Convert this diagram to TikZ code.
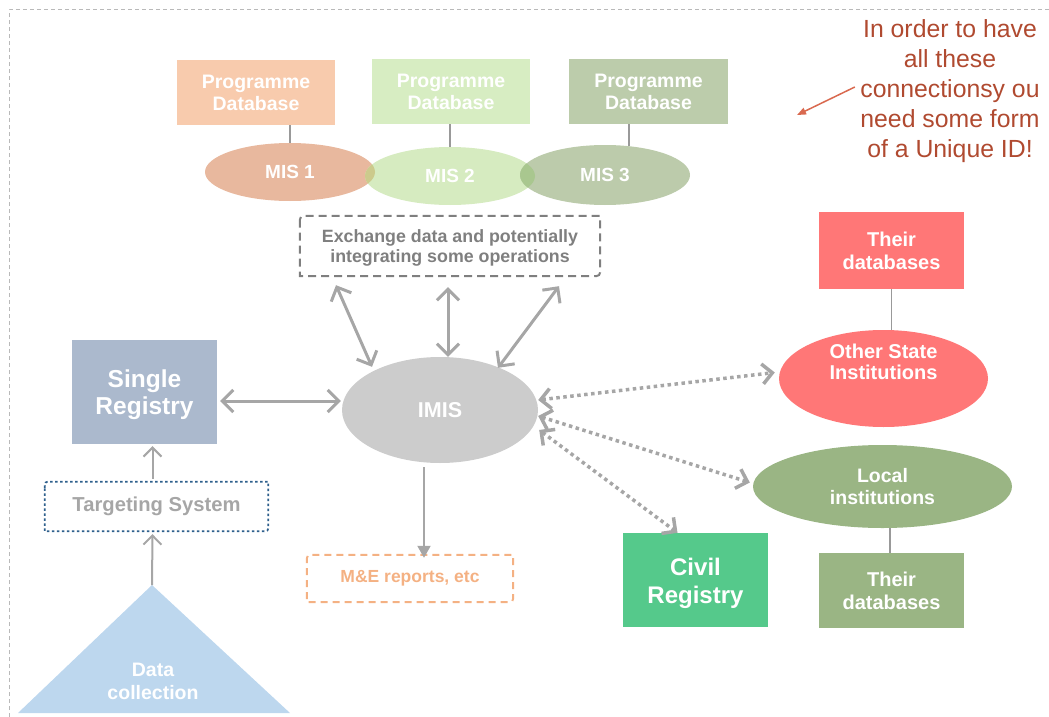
\documentclass[tikz,border=0pt]{standalone}
\usepackage{fontspec}
\setmainfont{Liberation Sans}
\usetikzlibrary{shapes.geometric,arrows.meta,calc}

\definecolor{pdA}{HTML}{F8CBAD}
\definecolor{misA}{HTML}{E8B89E}
\definecolor{pdB}{HTML}{D7EDC2}
\definecolor{misB}{HTML}{D6EBC0}
\definecolor{pdC}{HTML}{BCCCAB}
\definecolor{misC}{HTML}{BCCBAB}
\definecolor{ovAB}{HTML}{CCCA8C}
\definecolor{ovBC}{HTML}{A9C78F}
\definecolor{imisgray}{HTML}{CCCCCC}
\definecolor{arrowgray}{HTML}{A6A6A6}
\definecolor{linegray}{HTML}{999999}
\definecolor{sregblue}{HTML}{ABB9CD}
\definecolor{trib}{HTML}{BDD7EE}
\definecolor{salmon}{HTML}{FF7777}
\definecolor{sage}{HTML}{9AB584}
\definecolor{civgreen}{HTML}{55C98B}
\definecolor{noteRed}{HTML}{B04A30}
\definecolor{noteArrow}{HTML}{D9694F}
\definecolor{meOrange}{HTML}{F4B183}
\definecolor{targBlue}{HTML}{2E5F8C}
\definecolor{exchGray}{HTML}{7F7F7F}

\newcommand\setfs[2]{\fontsize{#1}{#2}\selectfont\bfseries}

\begin{document}
\begin{tikzpicture}[x=1pt,y=-1pt,
  fillbox/.style={rectangle, inner sep=0pt, align=center, text=white},
  fillell/.style={ellipse, inner sep=0pt, align=center, text=white},
  framebox/.style={rectangle, inner sep=0pt, align=center},
  conn/.style={draw=linegray, line width=1.8pt},
  dbl/.style={draw=arrowgray, line width=3pt,
    {Straight Barb[length=11pt,width=22pt]}-{Straight Barb[length=11pt,width=22pt]}},
  dotdbl/.style={draw=arrowgray, line width=3.5pt, dash pattern=on 3.5pt off 3.5pt,
    {Straight Barb[length=10pt,width=20pt]}-{Straight Barb[length=10pt,width=20pt]}},
  thinarr/.style={draw=arrowgray, line width=2pt, -{Straight Barb[length=9pt,width=18pt]}},
]
\useasboundingbox (0,0) rectangle (1049,717);

% page frame
\draw[gray!55, line width=1pt, dash pattern=on 4pt off 3pt] (9,717) -- (9,10) -- (1049,10);

% programme databases
\node[fillbox, fill=pdA, minimum width=158pt, minimum height=65pt, font=\setfs{19.5}{22}] (pd1) at (256,92.5) {Programme\\Database};
\node[fillbox, fill=pdB, minimum width=158pt, minimum height=65pt, font=\setfs{19.5}{22}] (pd2) at (451,91.5) {Programme\\Database};
\node[fillbox, fill=pdC, minimum width=159pt, minimum height=65pt, font=\setfs{19.5}{22}] (pd3) at (648.5,91.5) {Programme\\Database};

% MIS ellipses
\node[fillell, fill=misA, minimum width=170pt, minimum height=58pt] (mis1) at (290,172) {};
\node[fillell, fill=misB, minimum width=170pt, minimum height=58pt] (mis2) at (450,176) {};
\node[fillell, fill=misC, minimum width=170pt, minimum height=60pt] (mis3) at (605,175) {};
\begin{scope}
  \clip (mis1.center) ellipse [x radius=85pt, y radius=29pt];
  \fill[ovAB] (mis2.center) ellipse [x radius=85pt, y radius=29pt];
\end{scope}
\begin{scope}
  \clip (mis2.center) ellipse [x radius=85pt, y radius=29pt];
  \fill[ovBC] (mis3.center) ellipse [x radius=85pt, y radius=30pt];
\end{scope}
\node[text=white, font=\setfs{19}{22}] at (mis1.center) {MIS 1};
\node[text=white, font=\setfs{19}{22}] at (mis2.center) {MIS 2};
\node[text=white, font=\setfs{19}{22}] at (mis3.center) {MIS 3};

\draw[conn] (mis1.north) -- (mis1.north |- pd1.south);
\draw[conn] (mis2.north) -- (mis2.north |- pd2.south);
\draw[conn] ([xshift=24pt,yshift=-1pt]mis3.north) -- ([xshift=24pt]mis3.north |- pd3.south);

% exchange box
\node[framebox, minimum width=300pt, minimum height=60pt] (exch) at (450,246) {};
\node[text=exchGray, align=center, font=\setfs{17.8}{19.5}] at ([yshift=-2pt]exch.center)
  {Exchange data and potentially\\integrating some operations};
\draw[exchGray, line width=2pt, dash pattern=on 8pt off 5pt]
  ($(exch.north west)+(0,9)$) .. controls (exch.north west) .. ($(exch.north west)+(9,0)$)
  -- (exch.north east) -- ($(exch.south east)+(0,-9)$)
  .. controls (exch.south east) .. ($(exch.south east)+(-9,0)$)
  -- (exch.south west) -- cycle;

% IMIS
\node[fillell, fill=imisgray, minimum width=196pt, minimum height=106pt, font=\setfs{21.5}{24}] (imis) at (440,410) {IMIS};

% single registry, targeting, data collection
\node[fillbox, fill=sregblue, minimum width=145pt, minimum height=104pt] (sreg) at (144.5,392) {};
\node[text=white, align=center, font=\setfs{24.5}{27}] at ([yshift=-3pt]sreg.center) {Single\\Registry};
\node[framebox, minimum width=223pt, minimum height=49pt, text=arrowgray, font=\setfs{20.2}{22}] (targ) at (156.5,506.5) {Targeting System};
\draw[targBlue, line width=1.8pt, dash pattern=on 2.5pt off 2.5pt]
  ($(targ.north west)+(0,6)$) .. controls (targ.north west) .. ($(targ.north west)+(6,0)$)
  -- (targ.north east) -- ($(targ.south east)+(0,-6)$)
  .. controls (targ.south east) .. ($(targ.south east)+(-6,0)$)
  -- (targ.south west) -- cycle;
\coordinate (apex) at (152,585);
\fill[trib] (apex) -- (290,713) -- (18,713) -- cycle;
\node[text=white, align=center, font=\setfs{19.5}{23}] (dc) at (153,681) {Data\\collection};

% M&E box
\node[framebox, minimum width=206pt, minimum height=47pt, text=meOrange, font=\setfs{17.5}{20}] (me) at (410,578.5) {M\&E reports, etc};
\draw[meOrange, line width=2pt, dash pattern=on 7pt off 5pt]
  ($(me.north west)+(0,8)$) .. controls (me.north west) .. ($(me.north west)+(8,0)$)
  -- (me.north east) -- ($(me.south east)+(0,-8)$)
  .. controls (me.south east) .. ($(me.south east)+(-8,0)$)
  -- (me.south west) -- cycle;

% other institutions
\node[fillbox, fill=salmon, minimum width=145pt, minimum height=77pt, font=\setfs{20}{23}] (tdb1) at (891.5,250.5) {Their\\databases};
\node[fillell, fill=salmon, minimum width=209pt, minimum height=97pt] (ostate) at (883.5,378.5) {};
\node[text=white, align=center, font=\setfs{20}{21}] at ([yshift=17pt]ostate.center) {Other State\\Institutions};
\node[fillell, fill=sage, minimum width=259pt, minimum height=83pt, font=\setfs{19.5}{22}] (local) at (882.5,486.5) {Local\\institutions};
\node[fillbox, fill=sage, minimum width=145pt, minimum height=75pt, font=\setfs{20}{23}] (tdb2) at (891.5,590.5) {Their\\databases};
\node[fillbox, fill=civgreen, minimum width=145pt, minimum height=94pt] (civil) at (695.5,580) {};
\node[text=white, align=center, font=\setfs{24}{28}] at ([yshift=-3pt]civil.center) {Civil\\Registry};

\draw[conn] (tdb1.south) -- (tdb1.south |- ostate.north);
\draw[conn] ([xshift=-1.5pt]tdb2.north) -- ([xshift=-1.5pt]tdb2.north |- local.south);

% connectors
\draw[dbl] ([xshift=-114pt,yshift=-9pt]exch.south) -- ([xshift=-68pt,yshift=-10pt]imis.north);
\draw[dbl] ([xshift=-2pt,yshift=-11pt]exch.south) -- ([xshift=8pt]imis.north);
\draw[dbl] ([xshift=109pt,yshift=-10pt]exch.south) -- ([xshift=58pt,yshift=-11pt]imis.north);
\draw[dbl] ([xshift=3pt,yshift=-9pt]sreg.east) -- ([xshift=-1pt,yshift=9pt]imis.west);

\draw[dotdbl] ([yshift=10pt]imis.east) -- ([xshift=-4pt,yshift=6pt]ostate.west);
\draw[dotdbl] ([yshift=-6pt]imis.east) -- ([xshift=-3pt,yshift=4pt]local.west);
\draw[dotdbl] ([xshift=1pt,yshift=-20pt]imis.east) -- ([xshift=-18pt]civil.north);

\draw[draw=arrowgray, line width=2pt, -{Triangle[length=12pt,width=13pt]}]
  ([xshift=-16pt,yshift=-4pt]imis.south) -- ([xshift=14pt,yshift=-3pt]me.north);

\draw[thinarr] (apex) -- ([xshift=-4pt,yshift=-3pt]targ.south);
\draw[thinarr] ([xshift=-4pt,yshift=3pt]targ.north) -- ([xshift=8pt,yshift=-2pt]sreg.south);

% note
\node[text=noteRed, align=center, font=\fontsize{24.8}{30}\selectfont] (note) at (950,91)
  {In order to have\\all these\\connectionsy ou\\need some form\\of a Unique ID!};
\coordinate (notetip) at (797,115);
\draw[noteArrow, line width=1.5pt, -{Triangle[length=9pt,width=7pt]}] ([xshift=-2pt,yshift=4pt]note.west) -- (notetip);
\end{tikzpicture}
\end{document}
